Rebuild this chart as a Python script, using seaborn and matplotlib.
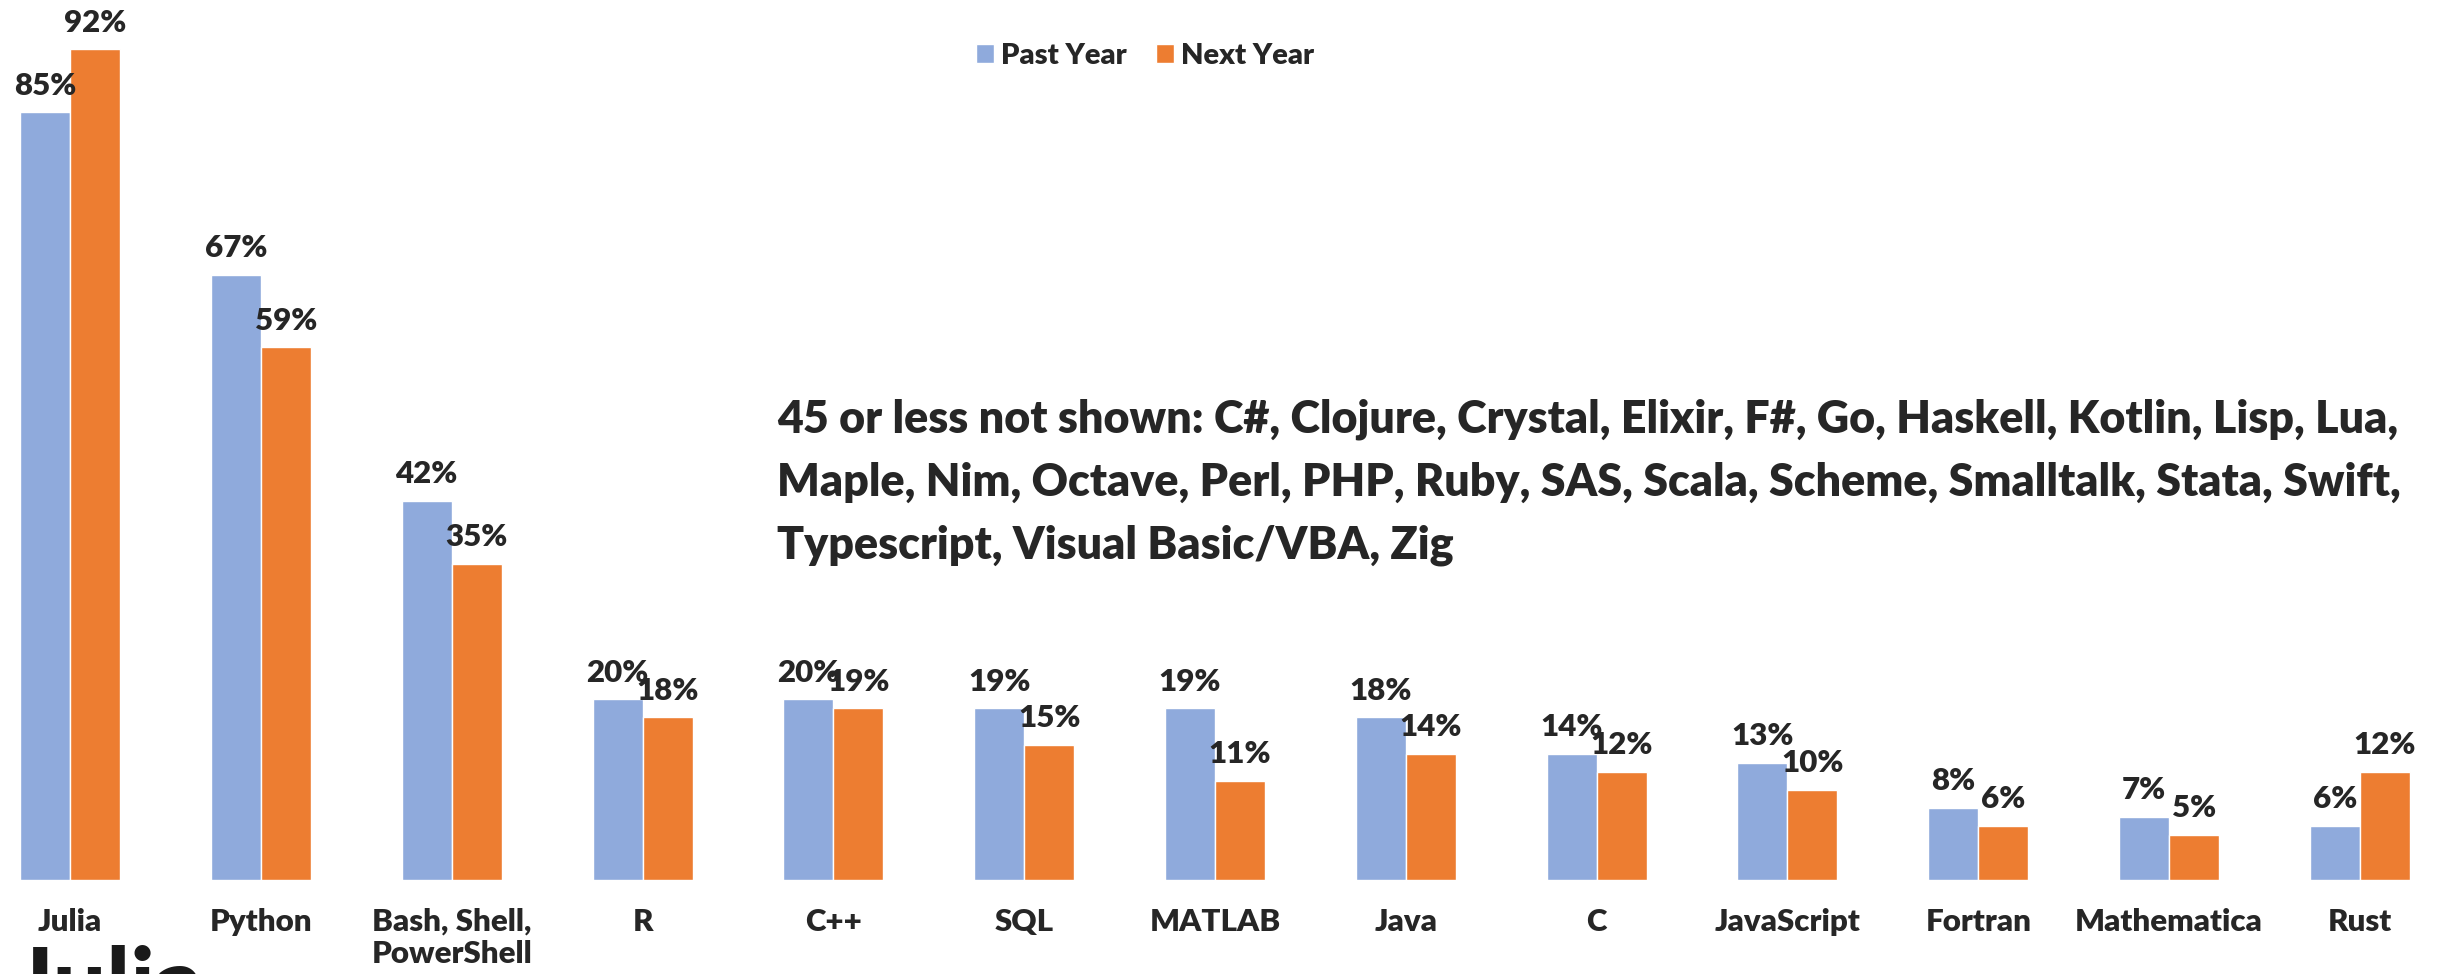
import matplotlib
matplotlib.use("Agg")
import matplotlib.pyplot as plt
import seaborn as sns
import pandas as pd


languages = ["Julia", "Python", "Bash, Shell,\nPowerShell", "R", "C++", "SQL", "MATLAB",
             "Java", "C", "JavaScript", "Fortran", "Mathematica", "Rust"]
past_year = [85, 67, 42, 20, 20, 19, 19, 18, 14, 13, 8, 7, 6]
next_year = [92, 59, 35, 18, 19, 15, 11, 14, 12, 10, 6, 5, 12]
series_names = ["Past Year", "Next Year"]
note = ("45 or less not shown: C#, Clojure, Crystal, Elixir, F#, Go, Haskell, Kotlin, Lisp, Lua,\n"
        "Maple, Nim, Octave, Perl, PHP, Ruby, SAS, Scala, Scheme, Smalltalk, Stata, Swift,\n"
        "Typescript, Visual Basic/VBA, Zig")

sns.set_style("white")
plt.rcParams["font.family"] = ["Lato", "DejaVu Sans"]
plt.rcParams["font.weight"] = "bold"

df = pd.DataFrame({
    "Language": languages * 2,
    "Percent": past_year + next_year,
    "Period": [series_names[0]] * len(languages) + [series_names[1]] * len(languages),
})

fig = plt.figure(figsize=(24.38, 9.74), dpi=100)
ax = fig.add_axes([0, 94 / 974, 1, 880 / 974])
sns.barplot(data=df, x="Language", y="Percent", hue="Period", order=languages,
            hue_order=series_names, palette=["#8FAADC", "#ED7D31"], saturation=1,
            width=0.524, edgecolor="white", linewidth=1, ax=ax)

for container in ax.containers:
    ax.bar_label(container, labels=[f"{v:.0f}%" for v in container.datavalues],
                 padding=9, fontsize=22.5, fontweight="heavy")

ax.set_xlim(-0.367, 12.409)
ax.set_ylim(0, 97.45)
ax.set_xlabel("")
ax.set_ylabel("")
ax.set_yticks([])
ax.tick_params(axis="x", length=0, pad=20, labelsize=22.5)
for lab in ax.get_xticklabels():
    lab.set_fontweight("heavy")
sns.despine(ax=ax, left=True, bottom=True)

handles, labels = ax.get_legend_handles_labels()
ax.legend(handles, labels, loc="center", bbox_to_anchor=(1145 / 2438, 1 - 56 / 974),
          bbox_transform=fig.transFigure, ncol=2, frameon=False,
          prop={"size": 21, "weight": "heavy"},
          handlelength=0.62, handleheight=0.62, handletextpad=0.25, columnspacing=1.0)

fig.text(777 / 2438, 1 - 398 / 974, note, fontsize=32.2, fontweight="heavy",
         va="top", ha="left", linespacing=1.65)

# partial logo at the bottom-left corner
fig.text(12 / 2438, 1 - 945 / 974, "Julia", fontsize=68, fontweight="black",
         color="#1a1a1a", va="top", ha="left")

fig.savefig("out.png", dpi=100)
